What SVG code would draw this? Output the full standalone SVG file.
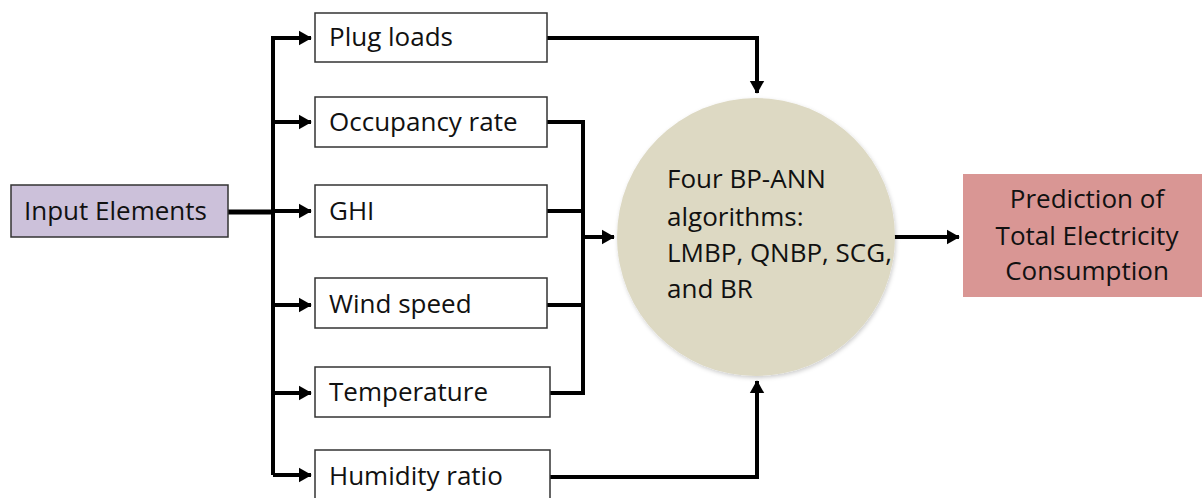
<svg xmlns="http://www.w3.org/2000/svg" width="1202" height="498" viewBox="0 0 1202 498">
<style>
.t{font-family:"Open Sans","Noto Sans",sans-serif;font-size:26px;fill:#111}
.box{fill:#fff;stroke:#333;stroke-width:1.5}
.ln{fill:none;stroke:#000;stroke-width:4;stroke-linejoin:miter}
</style>
<defs>
<marker id="ah" markerWidth="4" markerHeight="4" refX="3" refY="2" orient="auto" markerUnits="strokeWidth" viewBox="0 0 4 4">
<path d="M0,0.2 L3.2,2 L0,3.8 Z" fill="#000"/>
</marker>
<filter id="sh" x="-10%" y="-10%" width="130%" height="130%">
<feDropShadow dx="1" dy="2" stdDeviation="2" flood-color="#000" flood-opacity="0.2"/>
</filter>
</defs>
<rect width="1202" height="498" fill="#fff"/>
<g id="connectors">
<path class="ln" d="M228,212 L273,212" style="stroke-width:5"/>
<path class="ln" d="M273,475 L273,38 L311,38" marker-end="url(#ah)"/>
<path class="ln" d="M273,122 L311,122" marker-end="url(#ah)"/>
<path class="ln" d="M273,211 L311,211" marker-end="url(#ah)"/>
<path class="ln" d="M273,305 L311,305" marker-end="url(#ah)"/>
<path class="ln" d="M273,475 L311,475" marker-end="url(#ah)"/>
<path class="ln" d="M273,393 L311,393" marker-end="url(#ah)"/>
<path class="ln" d="M547,38 L757,38 L757,93" marker-end="url(#ah)"/>
<path class="ln" d="M547,477 L757,477 L757,381" marker-end="url(#ah)"/>
<path class="ln" d="M547,122 L583,122 L583,393 L550,393"/>
<path class="ln" d="M547,211 L583,211"/>
<path class="ln" d="M547,305 L583,305"/>
<path class="ln" d="M583,237 L614,237" marker-end="url(#ah)"/>
<path class="ln" d="M893,237 L959,237" marker-end="url(#ah)"/>
</g>
<g id="input">
<rect x="11" y="185" width="217" height="52" fill="#ccc1da" stroke="#333" stroke-width="1.5"/>
<text class="t" x="24" y="220">Input Elements</text>
</g>
<g id="plug">
<rect class="box" x="315" y="13" width="232" height="49"/>
<text class="t" x="329" y="46">Plug loads</text>
</g>
<g id="occupancy">
<rect class="box" x="315" y="97" width="232" height="50"/>
<text class="t" x="329" y="131">Occupancy rate</text>
</g>
<g id="ghi">
<rect class="box" x="315" y="185" width="232" height="52"/>
<text class="t" x="329" y="220">GHI</text>
</g>
<g id="wind">
<rect class="box" x="315" y="278" width="232" height="50"/>
<text class="t" x="329" y="313">Wind speed</text>
</g>
<g id="temperature">
<rect class="box" x="315" y="367" width="235" height="50"/>
<text class="t" x="329" y="401">Temperature</text>
</g>
<g id="humidity">
<rect class="box" x="315" y="450" width="235" height="52"/>
<text class="t" x="329" y="485">Humidity ratio</text>
</g>
<g id="ann">
<circle cx="756" cy="237" r="139" fill="#ddd9c3" filter="url(#sh)"/>
<text class="t" x="667" y="188">Four BP-ANN</text>
<text class="t" x="667" y="226">algorithms:</text>
<text class="t" x="667" y="262">LMBP, QNBP, SCG,</text>
<text class="t" x="667" y="298">and BR</text>
</g>
<g id="prediction">
<rect x="963" y="174" width="239" height="123" fill="#d99694"/>
<text class="t" x="1087" y="208" text-anchor="middle">Prediction of</text>
<text class="t" x="1087" y="245" text-anchor="middle">Total Electricity</text>
<text class="t" x="1087" y="280" text-anchor="middle">Consumption</text>
</g>
</svg>
